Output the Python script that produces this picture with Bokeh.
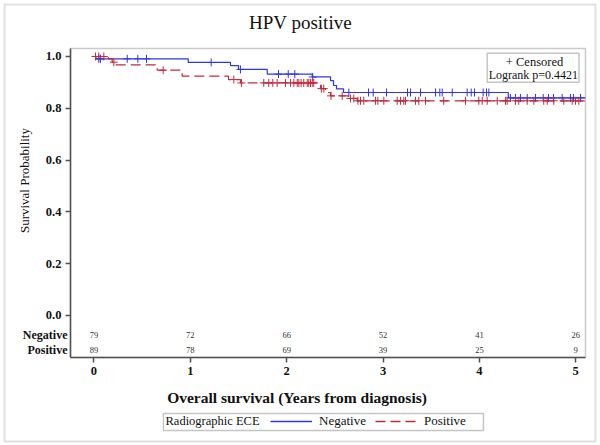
import numpy as np
from bokeh.plotting import figure
from bokeh.models import (Label, Legend, LegendItem, BoxAnnotation, FixedTicker,
                          Range1d, NumeralTickFormatter, ColumnDataSource)
from bokeh.embed import file_html
from bokeh.resources import INLINE
from bokeh.core.properties import value

# ---------------- data ----------------
years = [0, 1, 2, 3, 4, 5]
prob_ticks = [0.0, 0.2, 0.4, 0.6, 0.8, 1.0]
risk_groups = ["Negative", "Positive"]
atrisk_negative = [79, 72, 66, 52, 41, 26]
atrisk_positive = [89, 78, 69, 39, 25, 9]

# Kaplan-Meier steps (time in years, survival after that time)
neg_time = [0.0, 0.02, 0.978, 1.417, 1.500, 1.798, 2.265, 2.455, 2.486, 2.517, 2.590, 4.300, 5.10]
neg_surv = [1.0, 0.991, 0.977, 0.965, 0.950, 0.932, 0.921, 0.907, 0.888, 0.875, 0.861, 0.840, 0.840]

pos_time = [0.0, 0.150, 0.189, 0.223, 0.656, 0.915, 1.396, 1.520, 2.317, 2.351, 2.403, 2.455, 2.641, 2.732, 5.10]
pos_surv = [1.0, 0.991, 0.978, 0.968, 0.947, 0.924, 0.911, 0.898, 0.889, 0.876, 0.861, 0.848, 0.838, 0.829, 0.829]

neg_censor = [0.050, 0.067, 0.345, 0.455, 0.545, 1.216, 1.52, 1.915, 2.016, 2.084, 2.27,
              2.645, 2.849, 2.898, 3.036, 3.254, 3.285, 3.389, 3.545, 3.589, 3.614, 3.718,
              3.873, 3.915, 3.949, 4.039, 4.074, 4.098, 4.322, 4.374, 4.426, 4.496, 4.582,
              4.662, 4.717, 4.769, 4.859, 4.945, 4.976, 5.05]
pos_censor = [0.016, 0.050, 0.102, 0.206, 0.718, 1.451, 1.530, 1.762, 1.814, 1.856, 1.901,
              1.988, 2.039, 2.074, 2.109, 2.126, 2.150, 2.177, 2.213, 2.229, 2.247, 2.265,
              2.281, 2.360, 2.385, 2.460, 2.576, 2.662, 2.696, 2.740, 2.766, 2.800, 2.922,
              2.946, 3.008, 3.147, 3.181, 3.215, 3.233, 3.337, 3.371, 3.441, 3.630, 3.856,
              3.994, 4.029, 4.081, 4.185, 4.271, 4.288, 4.374, 4.409, 4.496, 4.565, 4.668,
              4.704, 4.772, 4.876, 4.963, 4.997, 5.032]

title_text = "HPV positive"
x_title = "Overall survival (Years from diagnosis)"
y_title = "Survival Probability"
legend_title = "Radiographic ECE"
inset_lines = ["+ Censored", "Logrank p=0.4421"]

BLUE = "#2f36e6"
RED = "#c42a3c"
FONT = "Liberation Serif"
FRAME = "#505050"

# plot-area extent (data units)
X_LO, X_HI = -0.244, 5.101
Y_LO, Y_HI = -0.162, 1.031
risk_y = [-0.0734, -0.135]


def surv_at(times, st, ss):
    st = np.asarray(st)
    ss = np.asarray(ss)
    idx = np.searchsorted(st, np.asarray(times), side="right") - 1
    return ss[np.clip(idx, 0, len(ss) - 1)]


p = figure(width=600, height=445, output_backend="svg", toolbar_location=None,
           x_range=Range1d(-0.9704, 5.2569), y_range=Range1d(-0.50193, 1.2162),
           min_border=0)
p.title.visible = False
p.xgrid.visible = False
p.ygrid.visible = False
p.outline_line_color = None
p.background_fill_color = "white"
p.border_fill_color = "white"

# outer border and plot box
p.add_layout(BoxAnnotation(left=-0.929, right=5.205, top=1.2008, bottom=-0.4865,
                           fill_alpha=0, line_color="#9c9c9c", line_width=2))
p.add_layout(BoxAnnotation(left=X_LO, right=X_HI, top=Y_HI, bottom=Y_LO,
                           fill_alpha=0, line_color=FRAME, line_width=1.5))

# axes pinned to the plot box
for ax in (p.xaxis[0], p.yaxis[0]):
    ax.axis_line_color = FRAME
    ax.axis_line_width = 1.5
    ax.major_tick_line_color = FRAME
    ax.major_tick_line_width = 1.5
    ax.major_tick_out = 5
    ax.major_tick_in = 0
    ax.minor_tick_line_color = None
    ax.major_label_text_font = FONT
    ax.major_label_text_font_size = "12.5px"
    ax.major_label_text_font_style = "bold"
    ax.major_label_text_color = "#111111"

p.xaxis.fixed_location = Y_LO
p.xaxis.bounds = (X_LO, X_HI)
p.xaxis.ticker = FixedTicker(ticks=years)
p.xaxis.major_label_standoff = 5
p.yaxis.fixed_location = X_LO
p.yaxis.bounds = (Y_LO, Y_HI)
p.yaxis.ticker = FixedTicker(ticks=prob_ticks)
p.yaxis.formatter = NumeralTickFormatter(format="0.0")
p.yaxis.major_label_standoff = 4

# curves
neg_line = p.step(x=neg_time, y=neg_surv, mode="after", line_color=BLUE, line_width=1.2)
pos_line = p.step(x=pos_time, y=pos_surv, mode="after", line_color=RED, line_width=1.2,
                  line_dash="10 5")

p.scatter(x=neg_censor, y=surv_at(neg_censor, neg_time, neg_surv), marker="cross",
          size=8, line_color=BLUE, line_width=1)
p.scatter(x=pos_censor, y=surv_at(pos_censor, pos_time, pos_surv), marker="cross",
          size=8, line_color=RED, line_width=1)

# at-risk numbers
risk_src = ColumnDataSource(dict(
    x=years + years,
    y=[risk_y[0]] * len(years) + [risk_y[1]] * len(years),
    t=[str(v) for v in atrisk_negative] + [str(v) for v in atrisk_positive]))
p.text(x="x", y="y", text="t", source=risk_src, text_font=value(FONT),
       text_font_size="8.5px", text_align="center", text_baseline="middle",
       text_color="#333333")

for name, yy in zip(risk_groups, risk_y):
    p.add_layout(Label(x=-0.275, y=yy, text=name, text_font=FONT, text_font_size="12px",
                       text_font_style="bold", text_align="right", text_baseline="middle",
                       text_color="#111111"))

# titles
p.add_layout(Label(x=2.143, y=1.131, text=title_text, text_font=FONT, text_font_size="19px",
                   text_align="center", text_baseline="middle", text_color="#111111"))
p.add_layout(Label(x=-0.721, y=0.521, text=y_title, text_font=FONT, text_font_size="13px",
                   angle=np.pi / 2, text_align="center", text_baseline="middle",
                   text_color="#111111"))
p.add_layout(Label(x=2.107, y=-0.317, text=x_title, text_font=FONT, text_font_size="15.5px",
                   text_font_style="bold", text_align="center", text_baseline="middle",
                   text_color="#111111"))

# inset box
p.add_layout(BoxAnnotation(left=4.081, right=5.034, top=1.0127, bottom=0.9008,
                           fill_alpha=0, line_color="#404040", line_width=1.5))
p.add_layout(Label(x=4.572, y=0.978, text=inset_lines[0], text_font=FONT, text_font_size="12.5px",
                   text_align="center", text_baseline="middle", text_color="#111111"))
p.add_layout(Label(x=4.56, y=0.927, text=inset_lines[1], text_font=FONT, text_font_size="12px",
                   text_align="center", text_baseline="middle", text_color="#111111"))

# bottom legend (proxy renderers sit outside the visible range)
leg_neg = p.line(x=[-3, -2], y=[-3, -3], line_color=BLUE, line_width=1.5)
leg_pos = p.line(x=[-3, -2], y=[-3, -3], line_color=RED, line_width=1.5, line_dash="10 5")
p.add_layout(BoxAnnotation(left=0.721, right=4.042, top=-0.378, bottom=-0.444,
                           fill_alpha=0, line_color="#404040", line_width=1.5))
p.add_layout(Label(x=0.742, y=-0.409, text=legend_title, text_font=FONT, text_font_size="12.5px",
                   text_align="left", text_baseline="middle", text_color="#111111"))
legend = Legend(items=[LegendItem(label="Negative", renderers=[leg_neg]),
                       LegendItem(label="Positive", renderers=[leg_pos])],
                orientation="horizontal", location=(270, 14), glyph_width=42,
                glyph_height=20, label_standoff=7, spacing=9, padding=0, margin=0,
                border_line_alpha=0, background_fill_alpha=0,
                label_text_font=FONT, label_text_font_size="13px",
                label_text_color="#111111")
p.add_layout(legend)

open("out.html", "w").write(file_html(p, INLINE))
